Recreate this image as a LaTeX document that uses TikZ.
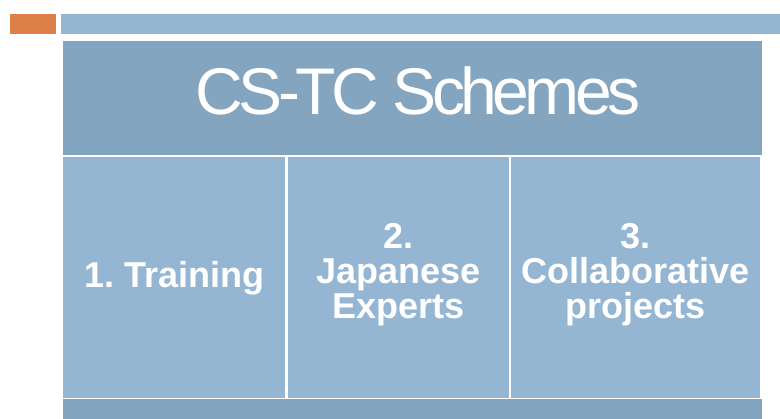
\documentclass[tikz,border=0pt]{standalone}
\usepackage{fontspec}
\setmainfont{Liberation Sans}
\newfontfamily\headfont[LetterSpace=-7]{Liberation Sans}
\definecolor{accent}{HTML}{DD8047}
\definecolor{barlight}{HTML}{94B6D3}
\definecolor{bardark}{HTML}{84A5BF}
\frenchspacing
\begin{document}
\begin{tikzpicture}[x=1pt,y=-1pt,
  cellbox/.style={anchor=north west, fill=barlight, inner sep=0pt, draw=none,
    minimum height=241pt},
  celltext/.style={text=white, align=center, inner sep=0pt,
    font=\bfseries\fontsize{36}{35}\selectfont},
  headbox/.style={anchor=north west, fill=bardark, inner sep=0pt,
    minimum width=699pt, minimum height=114pt}]
  \useasboundingbox (0,0) rectangle (780,419);
  % top rule: accent block and light strip
  \fill[accent] (10,14) rectangle (56,34);
  \fill[barlight] (61,14) rectangle (780,34);
  % header band with title
  \node[headbox] (head) at (63,41) {};
  \node[anchor=base, text=white, inner sep=0pt,
    font=\headfont\fontsize{66}{66}\selectfont] (title) at (418,115) {CS-TC Schemes};
  % three scheme cells
  \node[cellbox, minimum width=222pt] (c1) at (63,157) {};
  \node[cellbox, minimum width=221pt] (c2) at (288,157) {};
  \node[cellbox, minimum width=249pt] (c3) at (511,157) {};
  \node[celltext] (t1) at ([yshift=-1pt]c1.center) {1. Training};
  \node[celltext] (t2) at ([yshift=3pt]c2.center) {2.\\Japanese\\Experts};
  \node[celltext] (t3) at ([yshift=3pt]c3.center) {3.\\Collaborative\\projects};
  % bottom band
  \fill[bardark] (63,399) rectangle (762,419);
\end{tikzpicture}
\end{document}
